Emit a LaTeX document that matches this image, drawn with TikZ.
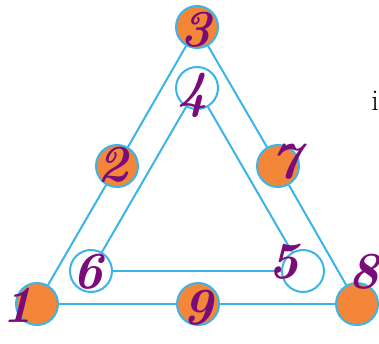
\documentclass[tikz,border=0pt]{standalone}
\usepackage{tikz}
\usetikzlibrary{positioning}

\definecolor{lineblue}{RGB}{59,181,232}
\definecolor{dotorange}{RGB}{243,134,56}
\definecolor{inkpurple}{RGB}{122,12,122}

\begin{document}
\begin{tikzpicture}[
    x=1pt, y=-1pt,
    outer/.style={circle, draw=lineblue, line width=2pt, fill=dotorange,
        minimum size=42pt, inner sep=0pt},
    inner/.style={circle, draw=lineblue, line width=2pt, fill=white,
        minimum size=42pt, inner sep=0pt},
    edge/.style={draw=lineblue, line width=2pt},
    digit/.style={text=inkpurple, font=\fontsize{52}{52}\selectfont\bfseries\itshape, inner sep=0pt}
]
    \useasboundingbox (0,0) rectangle (379,344);

    % Nodes
    \node[outer] (v1) at (37,304) {};
    \node[outer] (v3) at (197,27) {};
    \node[outer] (v8) at (357,304) {};
    \node[outer] (v2) at (117,166) {};
    \node[outer] (v7) at (278,166) {};
    \node[outer] (v9) at (198,304) {};

    \node[inner] (v4) at (197,88) {};
    \node[inner] (v6) at (91,271) {};
    \node[inner] (v5) at (303,271) {};

    % Connections
    \draw[edge] (v1) -- (v2);
    \draw[edge] (v2) -- (v3);
    \draw[edge] (v3) -- (v7);
    \draw[edge] (v7) -- (v8);
    \draw[edge] (v8) -- (v9);
    \draw[edge] (v9) -- (v1);
    \draw[edge] (v6) -- (v4);
    \draw[edge] (v4) -- (v5);
    \draw[edge] (v5) -- (v6);

    % Labels
    \node[digit] (d3) at (196,30) {3};
    \node[digit] (d4) at (193,95) {4};
    \node[digit] (d2) at (113,165) {2};
    \node[digit] (d7) at (286,162) {7};
    \node[digit] (d6) at (88,272) {6};
    \node[digit] (d5) at (284,262) {5};
    \node[digit, anchor=east] (d8) at (379,272) {8};
    \node[digit] (d1) at (18,305) {1};
    \node[digit] (d9) at (198,308) {9};
    \node[anchor=east, font=\fontsize{30}{30}\selectfont, inner sep=0pt] (note) at (379,101) {i};
\end{tikzpicture}
\end{document}
